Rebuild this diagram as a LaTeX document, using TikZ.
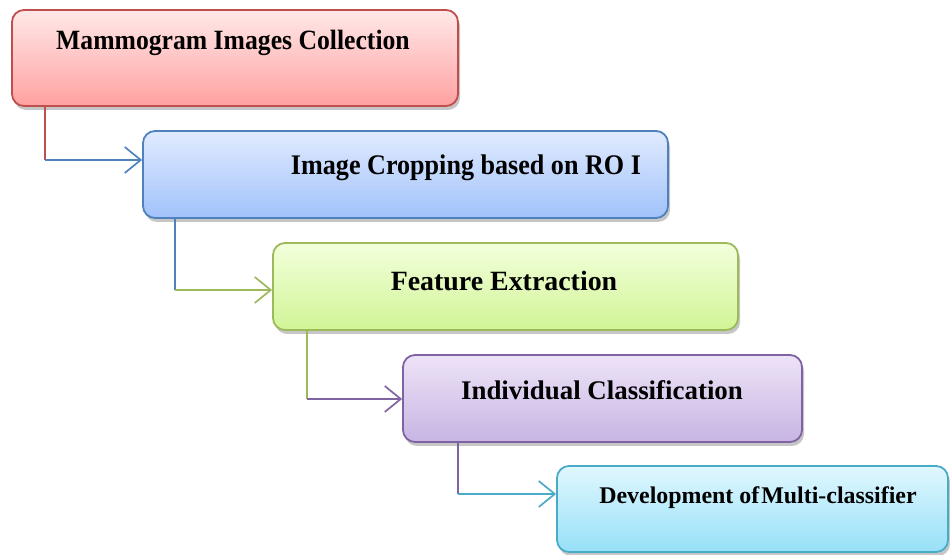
\documentclass[tikz,border=0pt]{standalone}
\usepackage{fontspec}
\setmainfont{Liberation Serif}
\newfontfamily\narrowserif[FakeStretch=0.92]{Liberation Serif}
\usepackage{tikz}
\usetikzlibrary{arrows.meta,shadows}

\begin{document}
\begin{tikzpicture}[>={Straight Barb[length=16bp,width=26bp]},line join=bevel,
  stage/.style={line width=1.8bp,rounded corners=12bp,drop shadow={shadow xshift=2bp,shadow yshift=-4bp,opacity=0.45}},
  stagetext/.style={inner sep=0pt},
  link/.style={line width=1.7bp}]
%%
  \path[use as bounding box] (0bp,0bp) rectangle (950bp,555bp);
  \definecolor{mammoedge}{rgb}{0.75,0.31,0.30};
  \definecolor{mammotop}{rgb}{1.0,0.91,0.91};
  \definecolor{mammobot}{rgb}{1.0,0.63,0.63};
  \node (mammo) at (235bp,497bp) [stage,draw=mammoedge,top color=mammotop,bottom color=mammobot,minimum width=446bp,minimum height=96bp] {};
  \node (mammo_txt) at (233bp,512bp) [stagetext,font=\narrowserif\bfseries\fontsize{28}{32}\selectfont] {Mammogram Images Collection};
  \definecolor{cropedge}{rgb}{0.31,0.51,0.74};
  \definecolor{croptop}{rgb}{0.88,0.92,1.0};
  \definecolor{cropbot}{rgb}{0.63,0.76,0.98};
  \node (crop) at (405.5bp,380.5bp) [stage,draw=cropedge,top color=croptop,bottom color=cropbot,minimum width=525bp,minimum height=87bp] {};
  \node (crop_txt) at (466bp,387bp) [stagetext,font=\narrowserif\bfseries\fontsize{28.5}{32}\selectfont] {Image Cropping based on RO I};
  \definecolor{featedge}{rgb}{0.61,0.73,0.35};
  \definecolor{feattop}{rgb}{0.95,1.0,0.86};
  \definecolor{featbot}{rgb}{0.82,0.96,0.59};
  \node (feat) at (505.5bp,268.5bp) [stage,draw=featedge,top color=feattop,bottom color=featbot,minimum width=465bp,minimum height=87bp] {};
  \node (feat_txt) at (504bp,274bp) [stagetext,font=\bfseries\fontsize{28}{32}\selectfont] {Feature Extraction};
  \definecolor{indivedge}{rgb}{0.50,0.39,0.64};
  \definecolor{indivtop}{rgb}{0.93,0.89,0.97};
  \definecolor{indivbot}{rgb}{0.78,0.71,0.89};
  \node (indiv) at (602.5bp,156.5bp) [stage,draw=indivedge,top color=indivtop,bottom color=indivbot,minimum width=399bp,minimum height=87bp] {};
  \node (indiv_txt) at (602bp,165bp) [stagetext,font=\bfseries\fontsize{27}{31}\selectfont] {Individual Classification};
  \definecolor{multiedge}{rgb}{0.29,0.67,0.78};
  \definecolor{multitop}{rgb}{0.88,0.97,1.0};
  \definecolor{multibot}{rgb}{0.59,0.88,0.97};
  \node (multi) at (752.5bp,46bp) [stage,draw=multiedge,top color=multitop,bottom color=multibot,minimum width=391bp,minimum height=86bp] {};
  \node (multi_txt) at (758bp,57bp) [stagetext,font=\bfseries\fontsize{24}{28}\selectfont] {Development of\kern2bp Multi-classifier};
  \coordinate (bend1) at (45bp,395bp);
  \coordinate (bend2) at (175bp,265bp);
  \coordinate (bend3) at (307bp,156bp);
  \coordinate (bend4) at (458bp,61bp);
  \draw [link,mammoedge] (mammo.south -| bend1) -- (bend1);
  \draw [link,cropedge,->] (bend1) -- (crop.west |- bend1);
  \draw [link,cropedge] (crop.south -| bend2) -- (bend2);
  \draw [link,featedge,->] (bend2) -- (feat.west |- bend2);
  \draw [link,featedge] (feat.south -| bend3) -- (bend3);
  \draw [link,indivedge,->] (bend3) -- (indiv.west |- bend3);
  \draw [link,indivedge] (indiv.south -| bend4) -- (bend4);
  \draw [link,multiedge,->] (bend4) -- (multi.west |- bend4);
%
\end{tikzpicture}
\end{document}
